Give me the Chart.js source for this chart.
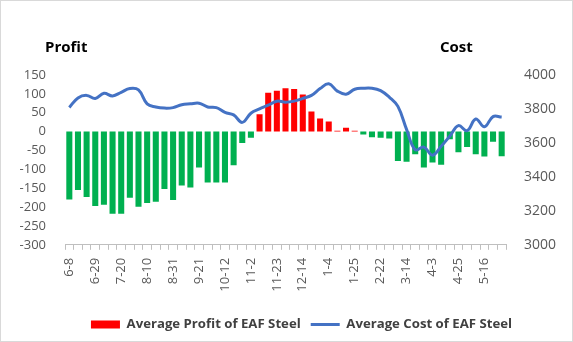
<!DOCTYPE html>
<html>
<head>
<meta charset="utf-8">
<script src="https://cdn.jsdelivr.net/npm/chart.js@4/dist/chart.umd.min.js"></script>
<style>
  html, body { margin: 0; padding: 0; background: #fff; }
  #wrap { position: relative; width: 571px; height: 340px; border: 1px solid #d9d9d9; background: #fff; }
  #wrap canvas { position: absolute; left: 0; top: 0; }
  .ttl { position: absolute; font-family: "Open Sans", sans-serif; font-weight: bold; font-size: 15px; color: #000; }
</style>
</head>
<body>
<div id="wrap">
  <canvas id="c" width="571" height="340"></canvas>
  <div class="ttl" style="left:44px; top:35px;">Profit</div>
  <div class="ttl" style="left:439px; top:35px;">Cost</div>
</div>
<script>
const categories = ["6-8","6-15","6-22","6-29","7-6","7-13","7-20","7-27","8-3","8-10","8-17","8-24","8-31","9-7","9-14","9-21","9-28","10-5","10-12","10-19","10-26","11-2","11-9","11-16","11-23","11-30","12-7","12-14","12-21","12-28","1-4","1-11","1-18","1-25","2-1","2-8","2-22","2-29","3-7","3-14","3-21","3-28","4-3","4-11","4-18","4-25","5-2","5-9","5-16","5-23","5-30"];
const profitValues = [-180,-155,-173,-197,-194,-218,-218,-175,-199,-189,-186,-152,-181,-143,-148,-95,-135,-135,-135,-89,-30,-16,46,103,108,115,113,98,53,35,27,2,10,2,-8,-15,-16,-18,-78,-80,-60,-95,-82,-88,-20,-55,-41,-60,-66,-27,-65];
const costValues = [3809,3865,3880,3862,3892,3877,3898,3920,3912,3830,3812,3805,3808,3825,3830,3834,3812,3808,3780,3765,3721,3775,3800,3822,3846,3840,3846,3862,3880,3920,3948,3905,3887,3916,3922,3922,3908,3870,3815,3680,3560,3575,3528,3580,3640,3702,3672,3741,3695,3755,3752];
const profitTicks = [150,100,50,0,-50,-100,-150,-200,-250,-300];
const costTicks = [4000,3800,3600,3400,3200,3000];
const profitLabel = "Average Profit of EAF Steel";
const costLabel = "Average Cost of EAF Steel";

const GREEN = "#00B050", RED = "#FF0000", BLUE = "#4472C4";
const leftFont = { family: "Open Sans", size: 13 };
const rightFont = { family: "Open Sans", size: 14 };

const legendShift = {
  id: "legendShift",
  afterLayout(chart) {
    if (chart.legend) { chart.legend.left += 15; chart.legend.right += 15; }
  }
};

new Chart(document.getElementById("c"), {
  type: "bar",
  data: {
    labels: categories,
    datasets: [
      {
        type: "line",
        label: costLabel,
        data: costValues,
        yAxisID: "y1",
        borderColor: BLUE,
        borderWidth: 3,
        pointRadius: 0,
        tension: 0.4,
        order: 0
      },
      {
        type: "bar",
        label: profitLabel,
        data: profitValues,
        yAxisID: "y",
        backgroundColor: profitValues.map(v => v >= 0 ? RED : GREEN),
        categoryPercentage: 1.0,
        barPercentage: 0.7,
        order: 1
      }
    ]
  },
  plugins: [legendShift],
  options: {
    responsive: false,
    animation: false,
    layout: { padding: { left: 0, right: 0, top: 74, bottom: 0 } },
    plugins: {
      tooltip: { enabled: false },
      legend: {
        position: "bottom",
        labels: {
          font: { family: "Open Sans", size: 13.2, weight: "bold" },
          color: "#404040",
          usePointStyle: true,
          pointStyleWidth: 29,
          boxHeight: 8,
          padding: 10,
          generateLabels: () => [
            { text: profitLabel, fillStyle: RED, strokeStyle: RED, lineWidth: 0, pointStyle: "rect", datasetIndex: 1, fontColor: "#404040" },
            { text: costLabel, fillStyle: BLUE, strokeStyle: BLUE, lineWidth: 3, pointStyle: "line", datasetIndex: 0, fontColor: "#404040" }
          ]
        }
      }
    },
    scales: {
      x: {
        offset: true,
        grid: { offset: true, drawOnChartArea: false, drawTicks: true, tickLength: 5, color: "#bfbfbf" },
        border: { display: true, color: "#bfbfbf" },
        ticks: {
          autoSkip: false,
          maxRotation: 90,
          minRotation: 90,
          padding: 8,
          font: leftFont,
          color: "#595959",
          callback: function(v, i) { return i % 3 === 0 ? categories[i] : ""; }
        },
        afterFit: s => { s.height = 63; }
      },
      y: {
        position: "left",
        min: -300, max: 150,
        grid: { display: false, drawTicks: false },
        border: { display: false },
        afterBuildTicks: s => { s.ticks = profitTicks.map(v => ({ value: v })); },
        ticks: { font: leftFont, color: "#595959", padding: 19, callback: v => String(v) },
        afterFit: s => { s.width = 64; }
      },
      y1: {
        position: "right",
        min: 3000, max: 4000,
        grid: { display: false, drawTicks: false },
        border: { display: false },
        afterBuildTicks: s => { s.ticks = costTicks.map(v => ({ value: v })); },
        ticks: { font: rightFont, color: "#595959", padding: 18, callback: v => String(v) },
        afterFit: s => { s.width = 66; }
      }
    }
  }
});
</script>
</body>
</html>
